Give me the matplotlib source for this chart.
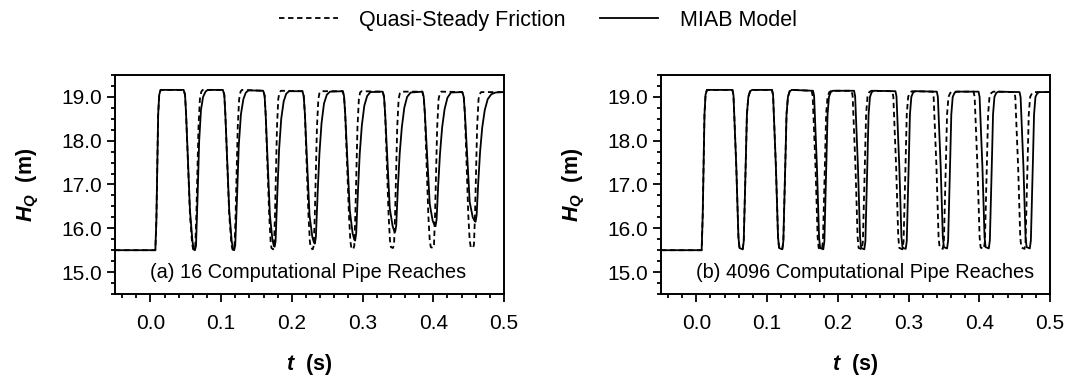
import matplotlib
matplotlib.use('Agg')
from matplotlib import pyplot as plt
from matplotlib.ticker import MultipleLocator, FormatStrFormatter

plt.rcParams['font.family'] = ['Liberation Sans', 'DejaVu Sans']
plt.rcParams['mathtext.fontset'] = 'custom'
plt.rcParams['mathtext.rm'] = 'Liberation Sans'
plt.rcParams['mathtext.it'] = 'Liberation Sans:italic'
plt.rcParams['mathtext.bf'] = 'Liberation Sans:bold'
plt.rcParams['mathtext.bfit'] = 'Liberation Sans:bold:italic'

# (a) 16 reaches - quasi-steady friction
t_qs_16 = [
    -0.05, 0.0070, 0.0085, 0.0110, 0.0125, 0.0145,
    0.0470, 0.0490, 0.0505, 0.0560, 0.0590, 0.0605, 0.0620, 0.0635, 0.0650, 0.0680, 0.0700, 0.0720, 0.0740,
    0.1025, 0.1045, 0.1060, 0.1115, 0.1145, 0.1160, 0.1175, 0.1190, 0.1205, 0.1235, 0.1255, 0.1275, 0.1295,
    0.1595, 0.1615, 0.1630, 0.1680, 0.1700, 0.1712, 0.1735, 0.1748, 0.1762, 0.1790, 0.1808, 0.1825, 0.1845,
    0.2150, 0.2168, 0.2185, 0.2235, 0.2255, 0.2268, 0.2295, 0.2310, 0.2325, 0.2355, 0.2375, 0.2392, 0.2412,
    0.2720, 0.2738, 0.2755, 0.2808, 0.2828, 0.2842, 0.2868, 0.2883, 0.2898, 0.2928, 0.2948, 0.2965, 0.2985,
    0.3285, 0.3304, 0.3320, 0.3368, 0.3388, 0.3402, 0.3430, 0.3445, 0.3460, 0.3490, 0.3510, 0.3527, 0.3547,
    0.3845, 0.3865, 0.3882, 0.3930, 0.3950, 0.3965, 0.3995, 0.4010, 0.4025, 0.4055, 0.4075, 0.4092, 0.4112,
    0.4410, 0.4431, 0.4448, 0.4495, 0.4515, 0.4530, 0.4560, 0.4575, 0.4590, 0.4620, 0.4640, 0.4657, 0.4677, 0.5000]
h_qs_16 = [
    15.5, 15.5, 16.2, 18.6, 19.05, 19.16,
    19.16, 19.05, 18.6, 16.3, 15.65, 15.52, 15.5, 15.6, 16.3, 18.3, 18.95, 19.12, 19.16,
    19.16, 19.05, 18.6, 16.3, 15.65, 15.52, 15.5, 15.6, 16.3, 18.3, 18.95, 19.12, 19.16,
    19.14, 19.03, 18.6, 16.3, 15.7, 15.55, 15.52, 15.6, 16.3, 18.3, 18.95, 19.1, 19.14,
    19.13, 19.02, 18.6, 16.3, 15.7, 15.55, 15.52, 15.6, 16.3, 18.3, 18.95, 19.1, 19.13,
    19.13, 19.02, 18.6, 16.3, 15.7, 15.55, 15.52, 15.6, 16.3, 18.3, 18.95, 19.1, 19.13,
    19.12, 19.0, 18.6, 16.3, 15.72, 15.57, 15.55, 15.62, 16.3, 18.3, 18.95, 19.08, 19.12,
    19.12, 19.0, 18.6, 16.3, 15.72, 15.57, 15.55, 15.62, 16.3, 18.3, 18.95, 19.08, 19.12,
    19.11, 19.0, 18.6, 16.3, 15.72, 15.57, 15.55, 15.62, 16.3, 18.3, 18.95, 19.07, 19.11, 19.11]

# (a) 16 reaches - MIAB model
t_miab_16 = [
    -0.05, 0.0070, 0.0085, 0.0110, 0.0125, 0.0145,
    0.0470, 0.0490, 0.0505, 0.0560, 0.0595, 0.0615, 0.0630, 0.0645, 0.0665, 0.0690, 0.0715, 0.0745, 0.0780, 0.0810,
    0.1025, 0.1045, 0.1060, 0.1115, 0.1150, 0.1170, 0.1185, 0.1200, 0.1225, 0.1250, 0.1280, 0.1315, 0.1350, 0.1390,
    0.1595, 0.1615, 0.1630, 0.1690, 0.1725, 0.1745, 0.1757, 0.1770, 0.1795, 0.1820, 0.1850, 0.1885, 0.1920, 0.1960,
    0.2150, 0.2168, 0.2185, 0.2250, 0.2290, 0.2312, 0.2325, 0.2340, 0.2365, 0.2390, 0.2420, 0.2455, 0.2495, 0.2540,
    0.2720, 0.2738, 0.2755, 0.2820, 0.2860, 0.2882, 0.2895, 0.2910, 0.2935, 0.2960, 0.2990, 0.3025, 0.3065, 0.3110,
    0.3285, 0.3304, 0.3320, 0.3385, 0.3425, 0.3448, 0.3461, 0.3476, 0.3500, 0.3525, 0.3555, 0.3590, 0.3630, 0.3680,
    0.3845, 0.3865, 0.3882, 0.3950, 0.3992, 0.4018, 0.4032, 0.4047, 0.4070, 0.4095, 0.4125, 0.4160, 0.4200, 0.4250,
    0.4410, 0.4431, 0.4448, 0.4515, 0.4558, 0.4584, 0.4598, 0.4613, 0.4636, 0.4662, 0.4692, 0.4728, 0.4770, 0.4820,
    0.4880, 0.5000]
h_miab_16 = [
    15.5, 15.5, 16.2, 18.6, 19.05, 19.16,
    19.16, 19.05, 18.6, 16.4, 15.7, 15.52, 15.5, 15.6, 16.6, 18.0, 18.7, 19.0, 19.12, 19.16,
    19.16, 19.05, 18.6, 16.4, 15.7, 15.52, 15.5, 15.62, 16.7, 17.9, 18.6, 18.95, 19.1, 19.15,
    19.14, 19.03, 18.6, 16.3, 15.75, 15.6, 15.58, 15.7, 16.8, 17.8, 18.5, 18.9, 19.07, 19.13,
    19.13, 19.02, 18.6, 16.3, 15.8, 15.68, 15.65, 15.8, 16.8, 17.7, 18.4, 18.85, 19.05, 19.12,
    19.13, 19.02, 18.6, 16.4, 15.88, 15.75, 15.72, 15.88, 16.85, 17.7, 18.35, 18.8, 19.02, 19.11,
    19.12, 19.0, 18.6, 16.45, 16.05, 15.94, 15.92, 16.06, 16.95, 17.7, 18.3, 18.75, 19.0, 19.1,
    19.12, 19.0, 18.6, 16.55, 16.17, 16.07, 16.05, 16.2, 17.0, 17.7, 18.3, 18.72, 18.98, 19.1,
    19.11, 19.0, 18.6, 16.6, 16.25, 16.17, 16.15, 16.3, 17.05, 17.75, 18.3, 18.7, 18.95, 19.06,
    19.1, 19.11]

# (b) 4096 reaches - quasi-steady friction
t_qs_4096 = [
    -0.05, 0.0075, 0.0090, 0.0115, 0.0130, 0.0150,
    0.0510, 0.0525, 0.0565, 0.0595, 0.0610, 0.0655, 0.0670, 0.0700, 0.0715, 0.0735, 0.0760, 0.0790,
    0.1070, 0.1085, 0.1125, 0.1155, 0.1170, 0.1215, 0.1230, 0.1260, 0.1275, 0.1295, 0.1320, 0.1350,
    0.1630, 0.1645, 0.1685, 0.1715, 0.1730, 0.1775, 0.1790, 0.1820, 0.1835, 0.1855, 0.1880, 0.1910,
    0.2195, 0.2210, 0.2250, 0.2280, 0.2295, 0.2340, 0.2355, 0.2385, 0.2400, 0.2420, 0.2445, 0.2475,
    0.2770, 0.2785, 0.2825, 0.2855, 0.2870, 0.2915, 0.2930, 0.2960, 0.2975, 0.2995, 0.3020, 0.3050,
    0.3340, 0.3355, 0.3395, 0.3425, 0.3440, 0.3485, 0.3500, 0.3530, 0.3545, 0.3565, 0.3590, 0.3620,
    0.3920, 0.3935, 0.3975, 0.4005, 0.4020, 0.4065, 0.4080, 0.4110, 0.4125, 0.4145, 0.4170, 0.4200,
    0.4495, 0.4510, 0.4550, 0.4580, 0.4595, 0.4640, 0.4655, 0.4685, 0.4700, 0.4720, 0.4745, 0.4775, 0.5000]
h_qs_4096 = [
    15.5, 15.5, 16.3, 18.6, 19.05, 19.16,
    19.16, 19.04, 17.4, 15.8, 15.55, 15.52, 15.7, 17.6, 18.6, 19.0, 19.13, 19.16,
    19.16, 19.04, 17.4, 15.8, 15.55, 15.52, 15.7, 17.6, 18.6, 19.0, 19.13, 19.16,
    19.14, 19.02, 17.4, 15.8, 15.55, 15.52, 15.7, 17.6, 18.6, 19.0, 19.11, 19.14,
    19.14, 19.02, 17.4, 15.8, 15.55, 15.52, 15.7, 17.6, 18.6, 19.0, 19.11, 19.14,
    19.13, 19.01, 17.4, 15.8, 15.55, 15.52, 15.7, 17.6, 18.6, 19.0, 19.10, 19.13,
    19.12, 19.0, 17.4, 15.8, 15.56, 15.53, 15.7, 17.6, 18.6, 19.0, 19.09, 19.12,
    19.12, 19.0, 17.4, 15.8, 15.56, 15.53, 15.7, 17.6, 18.6, 19.0, 19.09, 19.12,
    19.11, 18.99, 17.4, 15.8, 15.56, 15.53, 15.7, 17.6, 18.6, 19.0, 19.08, 19.11, 19.11]

# (b) 4096 reaches - MIAB model
t_miab_4096 = [
    -0.05, 0.0075, 0.0090, 0.0115, 0.0130, 0.0150,
    0.0510, 0.0525, 0.0565, 0.0595, 0.0610, 0.0655, 0.0670, 0.0700, 0.0715, 0.0735, 0.0760, 0.0790,
    0.1070, 0.1085, 0.1125, 0.1155, 0.1170, 0.1215, 0.1230, 0.1260, 0.1275, 0.1295, 0.1320, 0.1350,
    0.1650, 0.1665, 0.1705, 0.1735, 0.1750, 0.1795, 0.1810, 0.1840, 0.1855, 0.1875, 0.1900, 0.1930,
    0.2230, 0.2245, 0.2285, 0.2315, 0.2330, 0.2375, 0.2390, 0.2420, 0.2435, 0.2455, 0.2480, 0.2510,
    0.2815, 0.2830, 0.2870, 0.2900, 0.2915, 0.2960, 0.2975, 0.3005, 0.3020, 0.3040, 0.3065, 0.3095,
    0.3400, 0.3415, 0.3455, 0.3485, 0.3500, 0.3545, 0.3560, 0.3590, 0.3605, 0.3625, 0.3650, 0.3680,
    0.3990, 0.4005, 0.4045, 0.4075, 0.4090, 0.4135, 0.4150, 0.4180, 0.4195, 0.4215, 0.4240, 0.4270,
    0.4570, 0.4585, 0.4625, 0.4655, 0.4670, 0.4715, 0.4730, 0.4760, 0.4775, 0.4795, 0.4820, 0.4850, 0.5000]
h_miab_4096 = [
    15.5, 15.5, 16.3, 18.6, 19.05, 19.16,
    19.16, 19.04, 17.4, 15.8, 15.55, 15.52, 15.7, 17.6, 18.6, 19.0, 19.13, 19.16,
    19.16, 19.04, 17.4, 15.8, 15.55, 15.52, 15.7, 17.6, 18.6, 19.0, 19.13, 19.16,
    19.14, 19.02, 17.4, 15.8, 15.55, 15.52, 15.7, 17.6, 18.6, 19.0, 19.11, 19.14,
    19.14, 19.02, 17.4, 15.8, 15.55, 15.52, 15.7, 17.6, 18.6, 19.0, 19.11, 19.14,
    19.13, 19.01, 17.4, 15.8, 15.56, 15.53, 15.7, 17.6, 18.6, 19.0, 19.10, 19.13,
    19.12, 19.0, 17.4, 15.8, 15.57, 15.54, 15.72, 17.6, 18.6, 19.0, 19.09, 19.12,
    19.12, 19.0, 17.4, 15.8, 15.57, 15.54, 15.72, 17.6, 18.6, 19.0, 19.09, 19.12,
    19.11, 18.99, 17.4, 15.8, 15.57, 15.54, 15.72, 17.6, 18.6, 19.0, 19.08, 19.11, 19.11]

panel_labels = ['(a) 16 Computational Pipe Reaches', '(b) 4096 Computational Pipe Reaches']
series_names = ['Quasi-Steady Friction', 'MIAB Model']

fig = plt.figure(figsize=(10.76, 3.79), dpi=100)
ax_a = fig.add_axes([0.1069, 0.2243, 0.3615, 0.5778])
ax_b = fig.add_axes([0.6143, 0.2243, 0.3615, 0.5778])

panels = [
    (ax_a, t_qs_16, h_qs_16, t_miab_16, h_miab_16, panel_labels[0]),
    (ax_b, t_qs_4096, h_qs_4096, t_miab_4096, h_miab_4096, panel_labels[1]),
]

for ax, t_qs, h_qs, t_miab, h_miab, label in panels:
    ax.plot(t_miab, h_miab, color='black', lw=1.3, ls='-', label=series_names[1])
    ax.plot(t_qs, h_qs, color='black', lw=1.3, ls=(0, (3, 2)), label=series_names[0])

    ax.set_xlim(-0.05, 0.5)
    ax.set_ylim(14.5, 19.5)
    ax.xaxis.set_major_locator(MultipleLocator(0.1))
    ax.xaxis.set_minor_locator(MultipleLocator(0.02))
    ax.yaxis.set_major_locator(MultipleLocator(1.0))
    ax.yaxis.set_minor_locator(MultipleLocator(0.25))
    ax.xaxis.set_major_formatter(FormatStrFormatter('%.1f'))
    ax.yaxis.set_major_formatter(FormatStrFormatter('%.1f'))
    ax.tick_params(which='both', direction='out', width=1.3, labelsize=15, top=False, right=False)
    ax.tick_params(which='major', length=5.5)
    ax.tick_params(which='minor', length=3)
    ax.tick_params(axis='x', which='major', pad=9)
    ax.tick_params(axis='y', which='major', pad=4)
    for spine in ax.spines.values():
        spine.set_linewidth(1.4)

    ax.text(0.09, 0.1, label, transform=ax.transAxes, ha='left', va='center', fontsize=14.3)

    ax.set_xlabel(r'$\mathbfit{t}$  (s)', fontsize=15.5, fontweight='bold')
    ax.set_ylabel(r'$\mathbfit{H}_{\mathbfit{Q}}$  (m)', fontsize=15.5, fontweight='bold')
    ax.xaxis.set_label_coords(0.5, -0.265)
    ax.yaxis.set_label_coords(-0.19, 0.5)

handles, labels = ax_a.get_legend_handles_labels()
fig.legend(handles[::-1], labels[::-1], loc='upper center', bbox_to_anchor=(0.5, 1.025), ncol=2,
           frameon=False, fontsize=15.5, handlelength=2.7, handletextpad=1.0, columnspacing=1.6)

fig.savefig('out.png', dpi=100)
